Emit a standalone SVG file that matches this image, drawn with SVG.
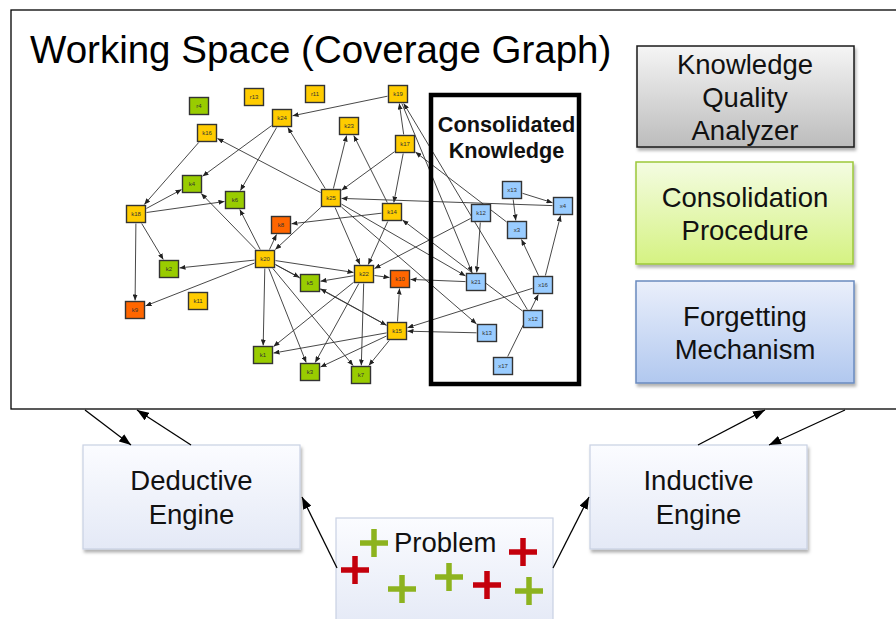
<svg xmlns="http://www.w3.org/2000/svg" width="896" height="619" viewBox="0 0 896 619">
  <style>
    .sans { font-family: "Liberation Sans", Arial, sans-serif; }
    .node rect { stroke: #333; stroke-width: 1.4; }
    .node text { font-family: "Liberation Sans", Arial, sans-serif; font-size: 6px; fill: #333; text-anchor: middle; }
    .y rect { fill: #ffcc00; }
    .g rect { fill: #99cc00; }
    .o rect { fill: #ff6600; }
    .b rect { fill: #99ccff; }
    .edges line { stroke: #333; stroke-width: 0.9; marker-end: url(#ah); }
    .flow line { stroke: #000; stroke-width: 1.3; marker-end: url(#big); }
    .big-label { font-family: "Liberation Sans", Arial, sans-serif; font-size: 27.5px; fill: #111; text-anchor: middle; }
    .plus-g { stroke: #8db31f; stroke-width: 5.5; fill: none; }
    .plus-r { stroke: #c4000c; stroke-width: 5.5; fill: none; }
  </style>
  <defs>
    <marker id="ah" viewBox="0 0 10 10" refX="10" refY="5" markerWidth="6" markerHeight="5" markerUnits="userSpaceOnUse" orient="auto" preserveAspectRatio="none">
      <path d="M0,0 L10,5 L0,10 z" fill="#222"/>
    </marker>
    <marker id="big" viewBox="0 0 10 10" refX="10" refY="5" markerWidth="12" markerHeight="9" markerUnits="userSpaceOnUse" orient="auto" preserveAspectRatio="none">
      <path d="M0,0 L10,5 L0,10 z" fill="#000"/>
    </marker>
    <linearGradient id="gGray" x1="0" y1="0" x2="0" y2="1">
      <stop offset="0" stop-color="#f5f5f5"/>
      <stop offset="1" stop-color="#bcbcbc"/>
    </linearGradient>
    <linearGradient id="gGreen" x1="0" y1="0" x2="0" y2="1">
      <stop offset="0" stop-color="#f4fce2"/>
      <stop offset="1" stop-color="#d5f282"/>
    </linearGradient>
    <linearGradient id="gBlue" x1="0" y1="0" x2="0" y2="1">
      <stop offset="0" stop-color="#eaeffb"/>
      <stop offset="1" stop-color="#b1c8ef"/>
    </linearGradient>
    <linearGradient id="gPale" x1="0" y1="0" x2="0" y2="1">
      <stop offset="0" stop-color="#fbfcff"/>
      <stop offset="1" stop-color="#e4e9f6"/>
    </linearGradient>
    <filter id="shadow" x="-10%" y="-10%" width="125%" height="130%">
      <feDropShadow dx="1.5" dy="3" stdDeviation="1.8" flood-color="#000" flood-opacity="0.3"/>
    </filter>
  </defs>

  <rect width="896" height="619" fill="#fff"/>

  <!-- working space frame -->
  <g id="working-space">
    <rect x="11" y="10" width="900" height="399" fill="#fff" stroke="#000" stroke-width="1.3"/>
    <text class="sans" x="30" y="63" font-size="38.5" fill="#000">Working Space (Coverage Graph)</text>
  </g>

  <!-- coverage graph connectors -->
  <g id="graph-edges" class="edges">
    <line x1="198.7" y1="142.5" x2="144.3" y2="204.5"/>
    <line x1="146.5" y1="208.4" x2="181.5" y2="189.6"/>
    <line x1="146.5" y1="212.5" x2="224.5" y2="201.5"/>
    <line x1="141.7" y1="223.5" x2="163.3" y2="259.5"/>
    <line x1="135.9" y1="223.5" x2="135.1" y2="300.5"/>
    <line x1="271.5" y1="125.7" x2="202.5" y2="176.3"/>
    <line x1="276.6" y1="127.5" x2="240.4" y2="190.5"/>
    <line x1="387.5" y1="96.2" x2="292.5" y2="115.8"/>
    <line x1="325.2" y1="188.5" x2="287.8" y2="127.5"/>
    <line x1="320.5" y1="192.5" x2="217.5" y2="138.5"/>
    <line x1="333.4" y1="188.5" x2="346.6" y2="135.5"/>
    <line x1="387.25" y1="202.5" x2="353.75" y2="135.5"/>
    <line x1="394.5" y1="151.7" x2="341.5" y2="190.3"/>
    <line x1="403.7" y1="134.5" x2="399.3" y2="103.5"/>
    <line x1="403.2" y1="153.5" x2="393.8" y2="202.5"/>
    <line x1="506.5" y1="221.9" x2="415.5" y2="152.1"/>
    <line x1="552.5" y1="205.6" x2="341.5" y2="198.4"/>
    <line x1="401.9" y1="103.5" x2="472.1" y2="272.5"/>
    <line x1="527.3" y1="309.5" x2="403.7" y2="103.5"/>
    <line x1="255.8" y1="249.5" x2="201.2" y2="193.5"/>
    <line x1="260.2" y1="249.5" x2="239.8" y2="209.5"/>
    <line x1="269.5" y1="249.5" x2="276.5" y2="234.5"/>
    <line x1="254.5" y1="260.1" x2="179.5" y2="267.9"/>
    <line x1="254.5" y1="263.1" x2="145.5" y2="305.9"/>
    <line x1="264.8" y1="268.5" x2="263.2" y2="345.5"/>
    <line x1="275.5" y1="264.6" x2="299.5" y2="277.4"/>
    <line x1="275.5" y1="260.6" x2="353.5" y2="272.4"/>
    <line x1="268.8" y1="268.5" x2="306.2" y2="362.5"/>
    <line x1="272.9" y1="268.5" x2="353.1" y2="365.5"/>
    <line x1="275.5" y1="264.7" x2="386.5" y2="325.3"/>
    <line x1="320.7" y1="207.5" x2="275.3" y2="249.5"/>
    <line x1="335.1" y1="207.5" x2="359.9" y2="264.5"/>
    <line x1="381.5" y1="213.2" x2="291.5" y2="223.8"/>
    <line x1="387.7" y1="221.5" x2="368.3" y2="264.5"/>
    <line x1="470.5" y1="218.5" x2="374.5" y2="268.5"/>
    <line x1="353.5" y1="275.75" x2="320.5" y2="281.25"/>
    <line x1="374.5" y1="275.5" x2="389.5" y2="277.5"/>
    <line x1="465.5" y1="281.6" x2="410.5" y2="279.4"/>
    <line x1="397.5" y1="321.5" x2="399.5" y2="288.5"/>
    <line x1="386.5" y1="325.2" x2="320.5" y2="288.8"/>
    <line x1="386.5" y1="332.9" x2="273.5" y2="353.1"/>
    <line x1="386.5" y1="336" x2="320.5" y2="367"/>
    <line x1="389.2" y1="340.5" x2="368.8" y2="365.5"/>
    <line x1="476.5" y1="332.8" x2="407.5" y2="331.2"/>
    <line x1="532.5" y1="288.3" x2="407.5" y2="327.7"/>
    <line x1="353.5" y1="282.4" x2="273.5" y2="346.6"/>
    <line x1="358.8" y1="283.5" x2="315.2" y2="362.5"/>
    <line x1="363.7" y1="283.5" x2="361.3" y2="365.5"/>
    <line x1="341.5" y1="204.1" x2="465.5" y2="275.9"/>
    <line x1="341.5" y1="207.1" x2="476.5" y2="323.9"/>
    <line x1="522.5" y1="311" x2="402.5" y2="220"/>
    <line x1="480.3" y1="222.5" x2="476.7" y2="272.5"/>
    <line x1="513.2" y1="199.5" x2="515.8" y2="220.5"/>
    <line x1="522.5" y1="193.3" x2="552.5" y2="202.7"/>
    <line x1="538.5" y1="275.5" x2="521.5" y2="239.5"/>
    <line x1="545.4" y1="275.5" x2="560.6" y2="215.5"/>
    <line x1="507.7" y1="356.5" x2="538.3" y2="294.5"/>
  </g>

  <!-- consolidated knowledge region -->
  <g id="consolidated-knowledge">
    <rect x="431" y="95" width="148" height="289" fill="none" stroke="#000" stroke-width="4.5"/>
    <text class="sans" x="506.5" y="132" font-size="21.7" font-weight="bold" text-anchor="middle" fill="#111">Consolidated</text>
    <text class="sans" x="506.5" y="158" font-size="21.7" font-weight="bold" text-anchor="middle" fill="#111">Knowledge</text>
  </g>

  <!-- knowledge nodes -->
  <g id="n-r4" class="node g"><rect x="189.5" y="97.5" width="19" height="17"/><text x="199" y="108">r4</text></g>
  <g id="n-r13" class="node y"><rect x="244.5" y="88.5" width="19" height="17"/><text x="254" y="99">r13</text></g>
  <g id="n-r11" class="node y"><rect x="305.5" y="85.5" width="19" height="17"/><text x="315" y="96">r11</text></g>
  <g id="n-k19" class="node y"><rect x="388.5" y="85.5" width="19" height="17"/><text x="398" y="96">k19</text></g>
  <g id="n-k16" class="node y"><rect x="197.5" y="124.5" width="19" height="17"/><text x="207" y="135">k16</text></g>
  <g id="n-k24" class="node y"><rect x="272.5" y="109.5" width="19" height="17"/><text x="282" y="120">k24</text></g>
  <g id="n-k23" class="node y"><rect x="339.5" y="117.5" width="19" height="17"/><text x="349" y="128">k23</text></g>
  <g id="n-k17" class="node y"><rect x="395.5" y="135.5" width="19" height="17"/><text x="405" y="146">k17</text></g>
  <g id="n-k4" class="node g"><rect x="182.5" y="175.5" width="19" height="17"/><text x="192" y="186">k4</text></g>
  <g id="n-k6" class="node g"><rect x="225.5" y="191.5" width="19" height="17"/><text x="235" y="202">k6</text></g>
  <g id="n-k18" class="node y"><rect x="126.5" y="205.5" width="19" height="17"/><text x="136" y="216">k18</text></g>
  <g id="n-k25" class="node y"><rect x="321.5" y="189.5" width="19" height="17"/><text x="331" y="200">k25</text></g>
  <g id="n-k14" class="node y"><rect x="382.5" y="203.5" width="19" height="17"/><text x="392" y="214">k14</text></g>
  <g id="n-k8" class="node o"><rect x="271.5" y="216.5" width="19" height="17"/><text x="281" y="227">k8</text></g>
  <g id="n-k20" class="node y"><rect x="255.5" y="250.5" width="19" height="17"/><text x="265" y="261">k20</text></g>
  <g id="n-k2" class="node g"><rect x="159.5" y="260.5" width="19" height="17"/><text x="169" y="271">k2</text></g>
  <g id="n-k5" class="node g"><rect x="300.5" y="274.5" width="19" height="17"/><text x="310" y="285">k5</text></g>
  <g id="n-k22" class="node y"><rect x="354.5" y="265.5" width="19" height="17"/><text x="364" y="276">k22</text></g>
  <g id="n-k10" class="node o"><rect x="390.5" y="270.5" width="19" height="17"/><text x="400" y="281">k10</text></g>
  <g id="n-k9" class="node o"><rect x="125.5" y="301.5" width="19" height="17"/><text x="135" y="312">k9</text></g>
  <g id="n-k11" class="node y"><rect x="188.5" y="292.5" width="19" height="17"/><text x="198" y="303">k11</text></g>
  <g id="n-k15" class="node y"><rect x="387.5" y="322.5" width="19" height="17"/><text x="397" y="333">k15</text></g>
  <g id="n-k1" class="node g"><rect x="253.5" y="346.5" width="19" height="17"/><text x="263" y="357">k1</text></g>
  <g id="n-k3" class="node g"><rect x="300.5" y="363.5" width="19" height="17"/><text x="310" y="374">k3</text></g>
  <g id="n-k7" class="node g"><rect x="351.5" y="366.5" width="19" height="17"/><text x="361" y="377">k7</text></g>
  <g id="n-x13" class="node b"><rect x="502.5" y="181.5" width="19" height="17"/><text x="512" y="192">x13</text></g>
  <g id="n-x4" class="node b"><rect x="553.5" y="197.5" width="19" height="17"/><text x="563" y="208">x4</text></g>
  <g id="n-k12" class="node b"><rect x="471.5" y="204.5" width="19" height="17"/><text x="481" y="215">k12</text></g>
  <g id="n-x3" class="node b"><rect x="507.5" y="221.5" width="19" height="17"/><text x="517" y="232">x3</text></g>
  <g id="n-k21" class="node b"><rect x="466.5" y="273.5" width="19" height="17"/><text x="476" y="284">k21</text></g>
  <g id="n-x16" class="node b"><rect x="533.5" y="276.5" width="19" height="17"/><text x="543" y="287">x16</text></g>
  <g id="n-x12" class="node b"><rect x="523.5" y="310.5" width="19" height="17"/><text x="533" y="321">x12</text></g>
  <g id="n-k13" class="node b"><rect x="477.5" y="324.5" width="19" height="17"/><text x="487" y="335">k13</text></g>
  <g id="n-x17" class="node b"><rect x="493.5" y="357.5" width="19" height="17"/><text x="503" y="368">x17</text></g>

  <!-- component boxes -->
  <g id="knowledge-quality-analyzer">
    <rect x="637" y="46" width="217" height="101" fill="url(#gGray)" stroke="#1a1a1a" stroke-width="1.5" filter="url(#shadow)"/>
    <text class="big-label" x="745" y="74">Knowledge</text>
    <text class="big-label" x="745" y="107">Quality</text>
    <text class="big-label" x="745" y="140">Analyzer</text>
  </g>
  <g id="consolidation-procedure">
    <rect x="636" y="162" width="217" height="102" fill="url(#gGreen)" stroke="#9cc83a" stroke-width="1.5" filter="url(#shadow)"/>
    <text class="big-label" x="745" y="207">Consolidation</text>
    <text class="big-label" x="745" y="240">Procedure</text>
  </g>
  <g id="forgetting-mechanism">
    <rect x="636" y="281" width="218" height="102" fill="url(#gBlue)" stroke="#6a8abf" stroke-width="1.5" filter="url(#shadow)"/>
    <text class="big-label" x="745" y="326">Forgetting</text>
    <text class="big-label" x="745" y="359">Mechanism</text>
  </g>

  <g id="deductive-engine">
    <rect x="83" y="445" width="217" height="104" fill="url(#gPale)" stroke="#c9d1e3" stroke-width="1.2" filter="url(#shadow)"/>
    <text class="big-label" x="191.5" y="490">Deductive</text>
    <text class="big-label" x="191.5" y="524">Engine</text>
  </g>
  <g id="inductive-engine">
    <rect x="590" y="445" width="217" height="104" fill="url(#gPale)" stroke="#c9d1e3" stroke-width="1.2" filter="url(#shadow)"/>
    <text class="big-label" x="698.5" y="490">Inductive</text>
    <text class="big-label" x="698.5" y="524">Engine</text>
  </g>
  <g id="problem">
    <rect x="336" y="518" width="217" height="110" fill="url(#gPale)" stroke="#c9d1e3" stroke-width="1.2"/>
    <text class="sans" x="394" y="552" font-size="27.5" fill="#111">Problem</text>
    <path class="plus-g" d="M360 543 h28 M374 529 v28"/>
    <path class="plus-r" d="M341 570 h28 M355 556 v28"/>
    <path class="plus-g" d="M388 589 h28 M402 575 v28"/>
    <path class="plus-g" d="M435 577 h28 M449 563 v28"/>
    <path class="plus-r" d="M473 585 h28 M487 571 v28"/>
    <path class="plus-r" d="M509 552 h28 M523 538 v28"/>
    <path class="plus-g" d="M515 591 h28 M529 577 v28"/>
  </g>

  <!-- engine flows -->
  <g id="flows" class="flow">
    <line x1="85" y1="410" x2="131" y2="445"/>
    <line x1="191" y1="445" x2="137" y2="410"/>
    <line x1="698" y1="445" x2="765" y2="410"/>
    <line x1="845" y1="410" x2="769" y2="445"/>
    <line x1="337" y1="568" x2="302" y2="497"/>
    <line x1="553" y1="568" x2="589" y2="497"/>
  </g>
</svg>
